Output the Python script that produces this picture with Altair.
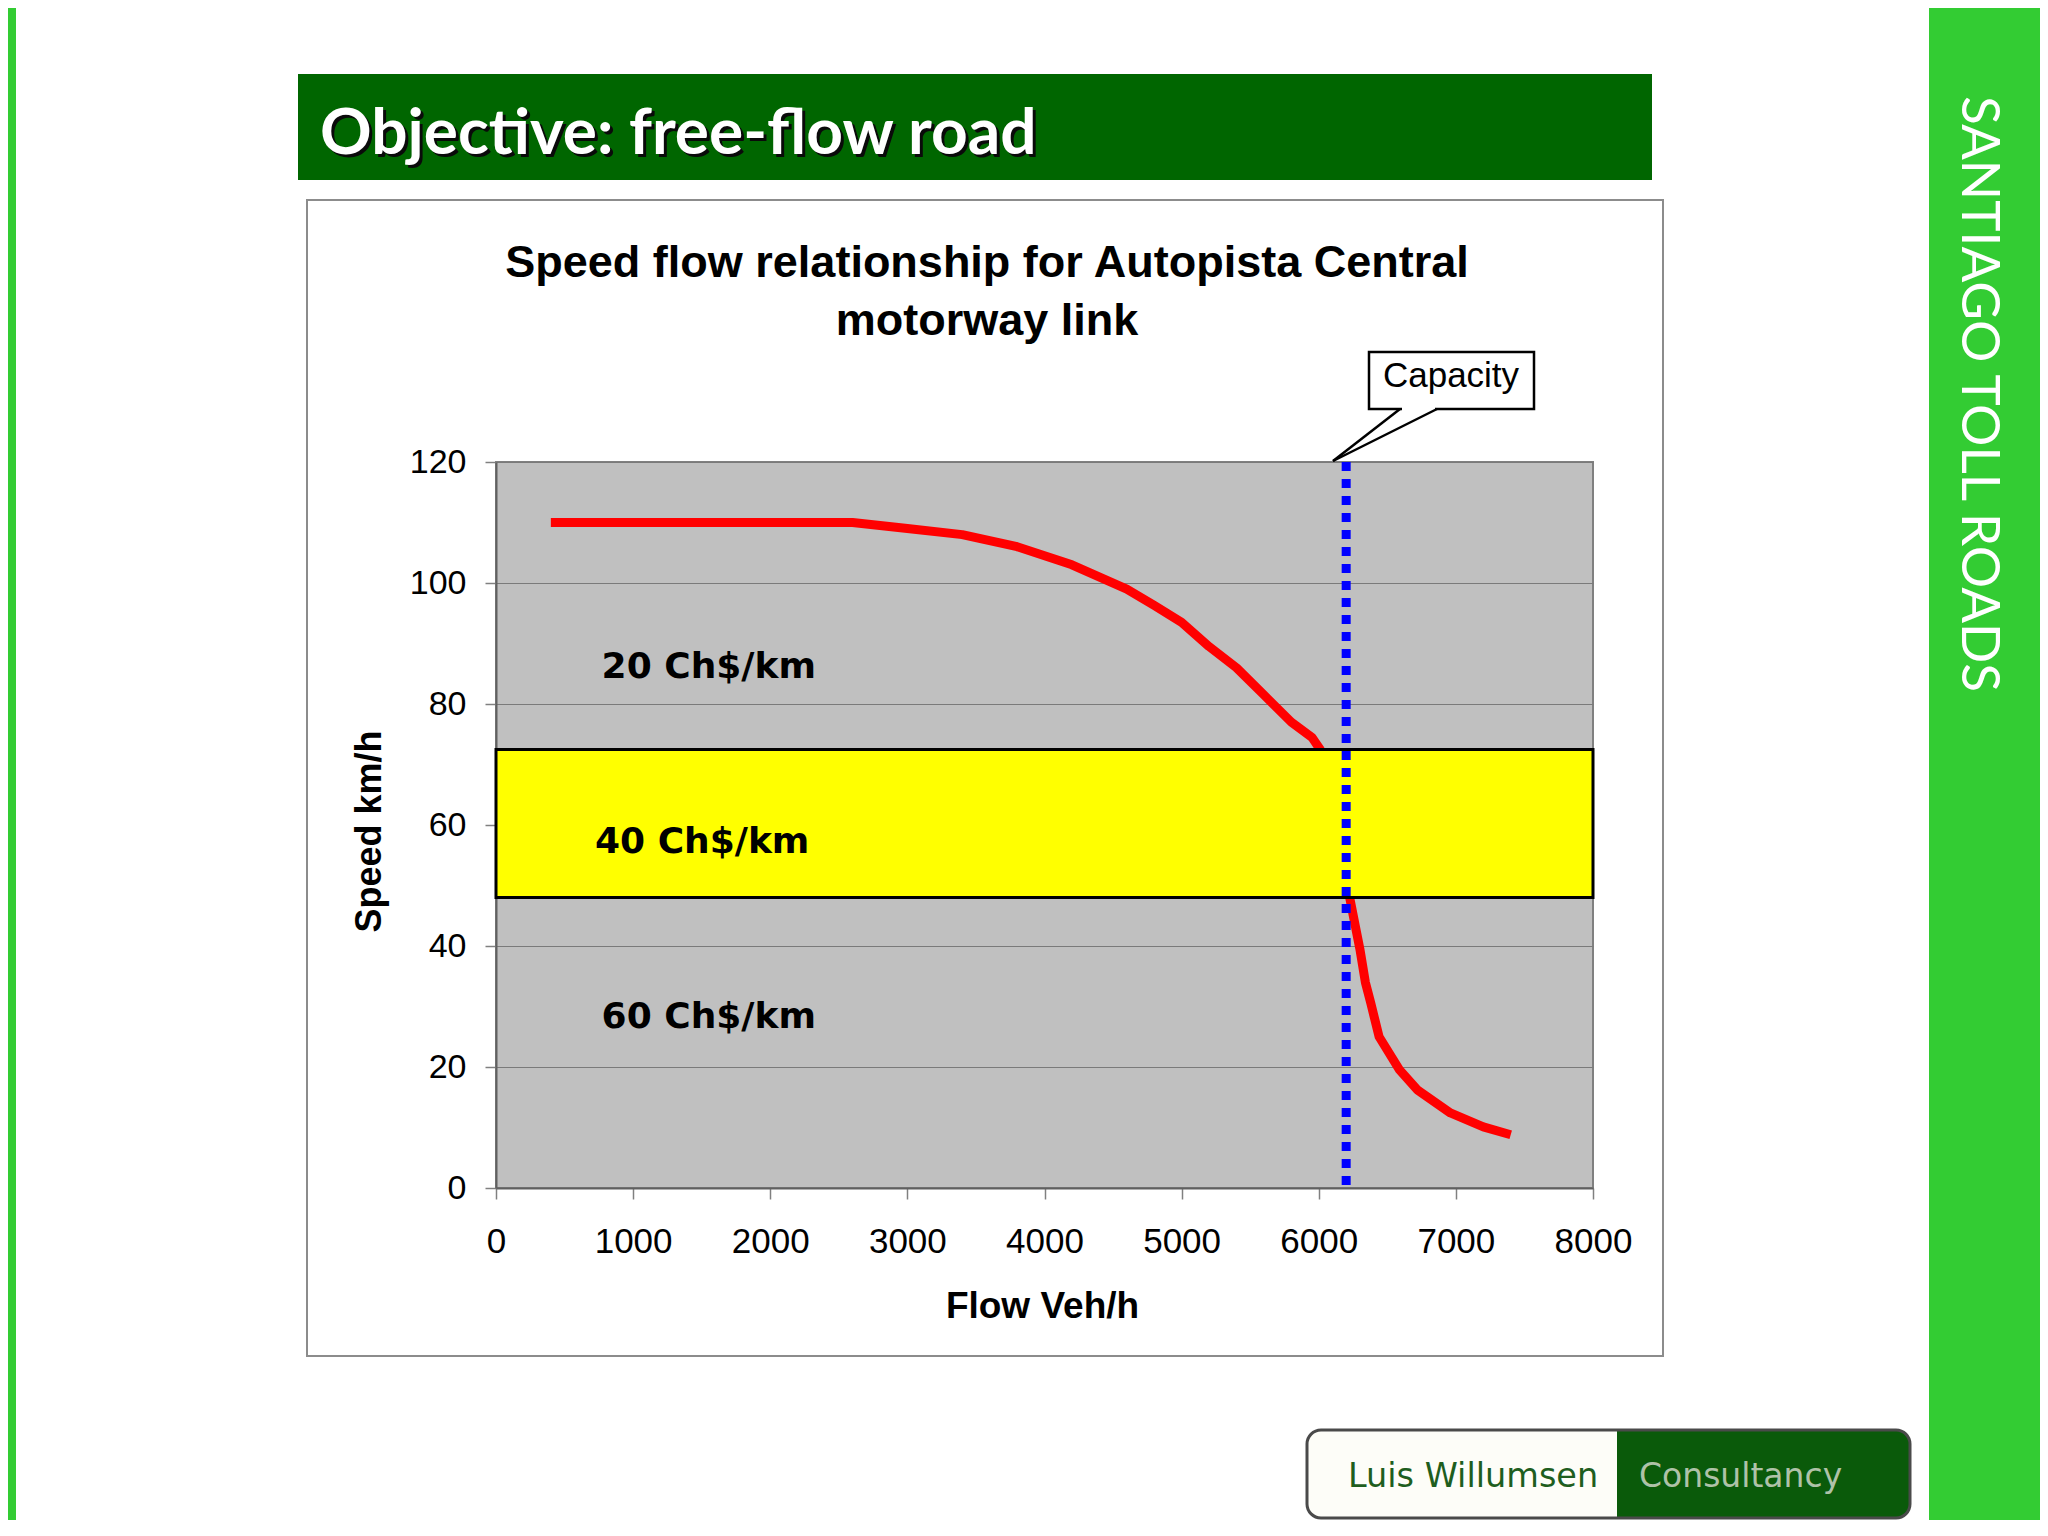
import altair as alt
import pandas as pd

# ---------------- data ----------------
flow = [400, 2600, 3000, 3400, 3800, 4200, 4600, 4800, 5000, 5200, 5400, 5600, 5800, 5950, 6010,
        6230, 6300, 6340, 6380, 6440, 6590, 6720, 6960, 7200, 7400]
speed = [110, 110, 109, 108, 106, 103, 99, 96.3, 93.5, 89.5, 86, 81.5, 77, 74.5, 72.5,
         47.5, 39.5, 34, 30.5, 25, 19.5, 16.2, 12.4, 10.1, 8.8]

capacity_flow = [6200]
band_flow = [0, 8000]
band_speed = [48, 72.5]

band_labels = ["20 Ch$/km", "40 Ch$/km", "60 Ch$/km"]
band_label_flow = [770, 722, 770]
band_label_speed = [84.3, 55.4, 26.4]

x_ticks = [0, 1000, 2000, 3000, 4000, 5000, 6000, 7000, 8000]
y_ticks = [0, 20, 40, 60, 80, 100, 120]

slide_title = "Objective: free-flow road"
chart_title = ["Speed flow relationship for Autopista Central", "motorway link"]
side_text = "SANTIAGO TOLL ROADS"
callout_text = "Capacity"
logo_left = "Luis Willumsen"
logo_right = "Consultancy"

# ---------------- layout ----------------
W, H = 1097, 726
X0, Y0 = 496, 462          # page position of the plot origin
SVG_W, SVG_H = 2032, 1512
PAD = {"left": X0 - 8, "top": Y0 - 8, "right": SVG_W - (X0 - 8) - W, "bottom": SVG_H - (Y0 - 8) - H}


def px(v):
    return v - X0


def py(v):
    return v - Y0


dummy = pd.DataFrame({"k": [0]})


def box(x1, y1, x2, y2, **mark):
    return alt.Chart(dummy).mark_rect(**mark).encode(
        x=alt.value(px(x1)), x2=alt.value(px(x2)),
        y=alt.value(py(y1)), y2=alt.value(py(y2)))


def label(x, y, text, **mark):
    return alt.Chart(dummy).mark_text(**mark).encode(
        x=alt.value(px(x)), y=alt.value(py(y)), text=alt.value(text))


def seg(x1, y1, x2, y2, **mark):
    return alt.Chart(dummy).mark_rule(**mark).encode(
        x=alt.value(px(x1)), x2=alt.value(px(x2)),
        y=alt.value(py(y1)), y2=alt.value(py(y2)))


xs = alt.Scale(domain=[0, 8000], nice=False, zero=False)
ys = alt.Scale(domain=[0, 120], nice=False, zero=False)

x_axis = alt.Axis(values=x_ticks, format="d", grid=False, tickSize=11, tickColor="#808080",
                  tickWidth=1.5, domainColor="#606060", domainWidth=2,
                  labelFont="Liberation Sans", labelFontSize=35, labelColor="black",
                  labelPadding=25, labelFlush=False, labelOverlap=False,
                  title="Flow Veh/h", titleFont="Liberation Sans",
                  titleFontSize=37, titleFontWeight="bold", titleColor="black",
                  titleX=546, titleY=129, titleAlign="center", titleBaseline="alphabetic")

y_axis = alt.Axis(values=y_ticks, format="d", grid=True, gridColor="#7a7a7a", gridWidth=1,
                  tickSize=11, tickColor="#808080", tickWidth=1.5, domainColor="#606060",
                  domainWidth=2, labelFont="Liberation Sans", labelFontSize=34,
                  labelColor="black", labelPadding=19, labelFlush=False, labelOverlap=False,
                  title="Speed km/h", titleFont="Liberation Sans", titleFontSize=36,
                  titleFontWeight="bold", titleColor="black", titleAngle=270,
                  titleX=-116, titleY=369, titleAlign="center", titleBaseline="alphabetic")

# ---------------- slide decorations ----------------
left_bar = box(0, 0, 16, 1540, color="#33CC33")
right_bar = box(1929, 0, 2060, 1540, color="#33CC33")
side = label(1962, 394, side_text, angle=90, align="center", baseline="alphabetic",
             font="Lato", fontSize=53, color="white")

title_bar = box(298, 74, 1652, 180, color="#006600")
title_shadow = label(323, 157, slide_title, align="left", baseline="alphabetic",
                     font="Lato", fontWeight="bold", fontSize=64, color="#0a0a0a")
title_text = label(320, 154, slide_title, align="left", baseline="alphabetic",
                   font="Lato", fontWeight="bold", fontSize=64, color="white")

chart_box = box(307, 200, 1663, 1356, fillOpacity=0, stroke="#8c8c8c", strokeWidth=2)
ct1 = label(987, 277, chart_title[0], align="center", baseline="alphabetic",
            font="Liberation Sans", fontWeight="bold", fontSize=45, color="black")
ct2 = label(987, 335, chart_title[1], align="center", baseline="alphabetic",
            font="Liberation Sans", fontWeight="bold", fontSize=45, color="black")

# ---------------- data layers ----------------
curve_df = pd.DataFrame({"flow": flow, "speed": speed})
curve = alt.Chart(curve_df).mark_line(color="#FF0000", strokeWidth=9, strokeJoin="round").encode(
    x=alt.X("flow:Q", scale=xs, axis=x_axis),
    y=alt.Y("speed:Q", scale=ys, axis=y_axis))

band_df = pd.DataFrame({"f1": [band_flow[0]], "f2": [band_flow[1]],
                        "s1": [band_speed[0]], "s2": [band_speed[1]]})
band = alt.Chart(band_df).mark_rect(fill="#FFFF00", stroke="#000000", strokeWidth=3).encode(
    x=alt.X("f1:Q", scale=xs, axis=x_axis), x2="f2:Q",
    y=alt.Y("s1:Q", scale=ys, axis=y_axis), y2="s2:Q")

lab_df = pd.DataFrame({"flow": band_label_flow, "speed": band_label_speed, "text": band_labels})
band_text = alt.Chart(lab_df).mark_text(align="left", baseline="alphabetic", font="DejaVu Sans",
                                        fontWeight="bold", fontSize=36, color="black").encode(
    x=alt.X("flow:Q", scale=xs, axis=x_axis),
    y=alt.Y("speed:Q", scale=ys, axis=y_axis),
    text="text:N")

cap_df = pd.DataFrame({"flow": capacity_flow})
cap_line = alt.Chart(cap_df).mark_rule(color="#0000FF", strokeWidth=9, strokeDash=[9, 8],
                                       strokeCap="butt").encode(
    x=alt.X("flow:Q", scale=xs, axis=x_axis),
    y=alt.YDatum(120, scale=ys, axis=y_axis), y2=alt.Y2Datum(0))

# ---------------- callout ----------------
call_box = box(1369, 352, 1534, 409, fill="white", stroke="black", strokeWidth=2.5)
call_gap = seg(1402, 409, 1435, 409, color="white", strokeWidth=5)
call_l1 = seg(1400, 409, 1333, 461, color="black", strokeWidth=2.5)
call_l2 = seg(1437, 409, 1333, 461, color="black", strokeWidth=2.5)
call_txt = label(1451, 387, callout_text, align="center", baseline="alphabetic",
                 font="Liberation Sans", fontSize=35, color="black")

# ---------------- logo ----------------
logo_green = box(1617, 1430, 1910, 1518, color="#0A5A0A",
                 cornerRadiusTopRight=14, cornerRadiusBottomRight=14)
logo_white = box(1307, 1430, 1617, 1518, color="#FDFDF8",
                 cornerRadiusTopLeft=14, cornerRadiusBottomLeft=14)
logo_frame = box(1307, 1430, 1910, 1518, fillOpacity=0, stroke="#4a4a4a", strokeWidth=3,
                 cornerRadius=14)
logo_t1 = label(1348, 1487, logo_left, align="left", baseline="alphabetic",
                font="DejaVu Sans", fontSize=33.5, color="#1E5E1E")
logo_t2 = label(1639, 1487, logo_right, align="left", baseline="alphabetic",
                font="DejaVu Sans", fontSize=33, color="#AFC2A8")

chart = alt.layer(
    left_bar, right_bar, side, title_bar, title_shadow, title_text, chart_box, ct1, ct2,
    curve, band, band_text, cap_line,
    call_box, call_gap, call_l1, call_l2, call_txt,
    logo_green, logo_white, logo_frame, logo_t1, logo_t2,
).properties(
    width=W, height=H,
    autosize=alt.AutoSizeParams(type="none"),
    padding=PAD,
    background="white",
).configure_view(fill="#C0C0C0", stroke="#808080", strokeWidth=2)

chart.save("out.html", embed_options={"renderer": "svg", "actions": False})
